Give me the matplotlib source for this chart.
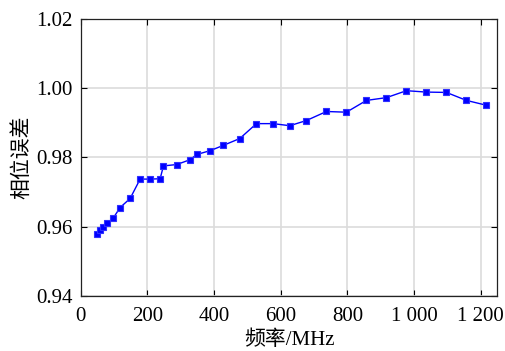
import matplotlib
matplotlib.use("Agg")
import matplotlib.pyplot as plt

freq = [49, 57, 67, 79, 97, 118, 148, 178, 208, 238, 248, 288, 328, 348, 388,
        427, 477, 527, 577, 627, 677, 737, 797, 857, 917, 977, 1037, 1097, 1157, 1217]
err = [0.9578, 0.9590, 0.9598, 0.9610, 0.9624, 0.9655, 0.9681, 0.9737, 0.9737, 0.9738,
       0.9775, 0.9779, 0.9793, 0.9808, 0.9819, 0.9834, 0.9854, 0.9897, 0.9897, 0.9891,
       0.9906, 0.9932, 0.9930, 0.9964, 0.9972, 0.9992, 0.9988, 0.9987, 0.9964, 0.9950]
xticks = [0, 200, 400, 600, 800, 1000, 1200]
xticklabels = ["0", "200", "400", "600", "800", "1 000", "1 200"]
yticks = [0.94, 0.96, 0.98, 1.00, 1.02]
yticklabels = ["0.94", "0.96", "0.98", "1.00", "1.02"]

fam = ['Liberation Serif', 'Noto Sans CJK SC']
plt.rcParams['font.family'] = fam

fig = plt.figure(figsize=(5.05, 3.51), dpi=100)
ax = fig.add_axes([0.160, 0.157, 0.825, 0.790])
ax.plot(freq, err, color='#0000ff', lw=1.0, marker='s', markersize=4.8,
        markerfacecolor='#0000ff', markeredgecolor='#3030ff', markeredgewidth=0.8, zorder=3)
ax.set_xlim(0, 1250)
ax.set_ylim(0.94, 1.02)
ax.set_xticks(xticks)
ax.set_xticklabels(xticklabels)
ax.set_yticks(yticks)
ax.set_yticklabels(yticklabels)
ax.grid(True, color='#dcdcdc', lw=1.2)
ax.set_axisbelow(True)
ax.tick_params(direction='in', top=True, right=True, labelsize=15, length=4, width=0.8)
ax.tick_params(axis='x', pad=8)
ax.tick_params(axis='y', pad=6)
for s in ax.spines.values():
    s.set_linewidth(0.9)
    s.set_color('#222222')
ax.set_xlabel('频率/MHz', fontsize=15, labelpad=3)
ax.set_ylabel('相位误差', fontsize=15, labelpad=3)
fig.savefig('out.png', dpi=100)
